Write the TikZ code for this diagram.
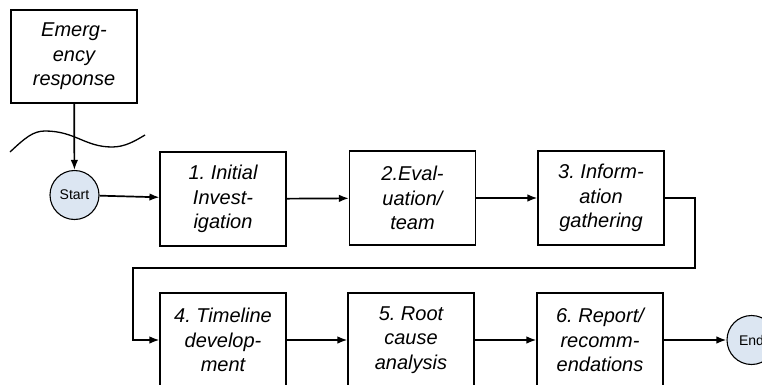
\documentclass[tikz,border=0pt]{standalone}
\usepackage{fontspec}
\setmainfont{Liberation Sans}
\usetikzlibrary{arrows.meta}
\definecolor{termfill}{HTML}{DCE6F2}
\frenchspacing

\begin{document}
\begin{tikzpicture}[x=1pt, y=-1pt, >={Latex[length=10pt,width=7.5pt]},
    every node/.style={font=\fontsize{20}{24.5}\selectfont\itshape},
    stepbox/.style={draw, line width=1.1pt, minimum width=126pt, minimum height=94pt, inner sep=0pt, align=center},
    term/.style={draw, line width=1.1pt, circle, fill=termfill, minimum size=49pt, inner sep=0pt,
        font=\fontsize{14}{16}\selectfont}]
        \path[use as bounding box, clip] (0,0) rectangle (762,385);
        \node[stepbox, minimum height=93pt] (emerg) at (74,56.5) {Emerg-\\ency\\response};
        \node[term] (start) at (74.5,195) {Start};
        \node[stepbox] (s1) at (223,199) {1. Initial\\Invest-\\igation};
        \node[stepbox] (s2) at (412.5,198) {2.Eval-\\uation/\\team};
        \node[stepbox] (s3) at (601,198) {3. Inform-\\ation\\gathering};
        \node[stepbox] (s4) at (223,340) {4. Timeline\\develop-\\ment};
        \node[stepbox] (s5) at (411,340) {5. Root\\cause\\analysis};
        \node[stepbox] (s6) at (600,340) {6. Report/\\recomm-\\endations};
        \node[term] (end) at (751.5,340) {End};
        \coordinate (turnR) at (695,268);
        \coordinate (turnL) at (133,268);
        % break in the line between the two phases
        \draw[line width=1.3pt] (10,152) .. controls (25,138) and (33,131) .. (45,131)
            .. controls (75,131) and (85,147) .. (112,147)
            .. controls (125,147) and (135,141) .. (145,135);
        \begin{scope}[line width=1.7pt]
        \draw[->] (emerg) -- (start);
        \draw[->] (start) -- (s1);
        \draw[->] (s1) -- (s2);
        \draw[->] (s2) -- (s3);
        \draw[->] (s3.east) -| (turnR) -- (turnL) |- (s4.west);
        \draw[->] (s4) -- (s5);
        \draw[->] (s5) -- (s6);
        \draw[->] (s6) -- (end);
        \end{scope}
    \end{tikzpicture}
\end{document}
